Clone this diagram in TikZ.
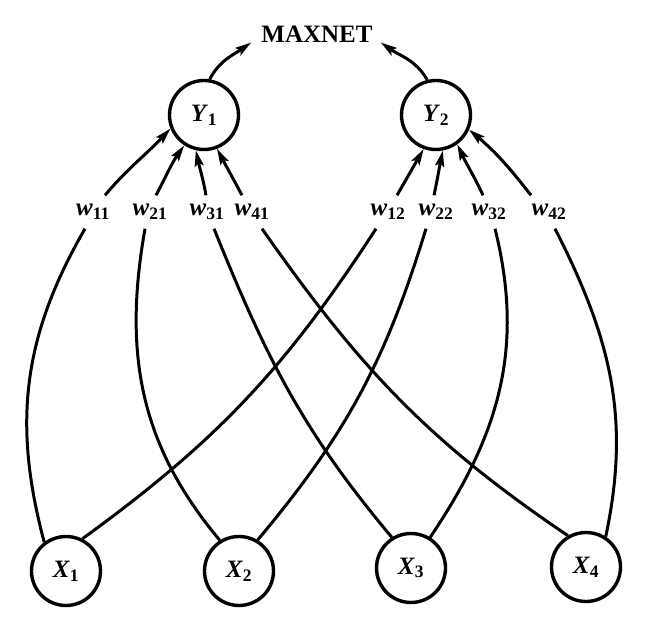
\documentclass[tikz,border=0pt]{standalone}
\usepackage{fontspec}
\setmainfont{Liberation Serif}
\usetikzlibrary{arrows.meta}
\begin{document}
\begin{tikzpicture}[x=1pt,y=1pt,
  txt/.style={font=\fontsize{25}{30}\selectfont\bfseries},
  unit/.style={txt,circle,draw,line width=3.4pt,minimum size=69pt,inner sep=0pt},
  wlab/.style={txt,inner sep=0pt,minimum width=36pt,minimum height=33pt},
  conn/.style={line width=3pt},
  arr/.style={conn,-{Stealth[length=16pt,width=9pt,inset=3pt]}}]
\useasboundingbox (0,0) rectangle (659,630);
% output units
\node[unit] (Y1) at (204,515) {\textit{Y}\textsubscript{1}};
\node[unit] (Y2) at (436,515) {\textit{Y}\textsubscript{2}};
\node[txt,inner sep=0pt] (MAX) at (317,596) {MAXNET};
% input units
\node[unit] (X1) at (66,59) {\textit{X}\textsubscript{1}};
\node[unit] (X2) at (239,59) {\textit{X}\textsubscript{2}};
\node[unit] (X3) at (411,62) {\textit{X}\textsubscript{3}};
\node[unit] (X4) at (586,63) {\textit{X}\textsubscript{4}};
% weight labels
\node[wlab] (w11) at (93,418) {\textit{w}\textsubscript{11}};
\node[wlab] (w21) at (150,418) {\textit{w}\textsubscript{21}};
\node[wlab] (w31) at (207,418) {\textit{w}\textsubscript{31}};
\node[wlab] (w41) at (252,418) {\textit{w}\textsubscript{41}};
\node[wlab] (w12) at (388,418) {\textit{w}\textsubscript{12}};
\node[wlab] (w22) at (436,418) {\textit{w}\textsubscript{22}};
\node[wlab] (w32) at (489,418) {\textit{w}\textsubscript{32}};
\node[wlab] (w42) at (549,418) {\textit{w}\textsubscript{42}};
% to MAXNET
\draw[arr] (Y1.81) to[out=62,in=215] ([xshift=-10pt]MAX.south west);
\draw[arr] (Y2.104) to[out=120,in=325] ([xshift=8pt]MAX.south east);
% connections to Y1
\draw[conn] (X1.127) to[out=105,in=240] ([xshift=-8pt]w11.south);
\draw[arr] ([xshift=12pt]w11.north) to[out=50,in=227] (Y1.202);
\draw[conn] (X2.122) to[out=130,in=260] ([xshift=-5pt]w21.south);
\draw[arr] ([xshift=6pt]w21.north) to[out=62,in=235] (Y1.237);
\draw[conn] (X3.122) to[out=130,in=292] ([xshift=7pt]w31.south);
\draw[arr] ([xshift=-1pt]w31.north) to[out=100,in=282] (Y1.257);
\draw[conn] (X4.120) to[out=146,in=305] ([xshift=10pt]w41.south);
\draw[arr] ([xshift=-10pt]w41.north) to[out=118,in=298] (Y1.291);
% connections to Y2
\draw[conn] (X1.63) to[out=36,in=237] ([xshift=-12pt]w12.south);
\draw[arr] ([xshift=9pt]w12.north) to[out=60,in=240] (Y2.250);
\draw[conn] (X2.59) to[out=50,in=253] ([xshift=-10pt]w22.south);
\draw[arr] ([xshift=-2pt]w22.north) to[out=78,in=258] (Y2.281);
\draw[conn] (X3.58) to[out=56,in=284] ([xshift=6pt]w32.south);
\draw[arr] ([xshift=-6pt]w32.north) to[out=115,in=295] (Y2.306);
\draw[conn] (X4.57) to[out=78,in=297] ([xshift=6pt]w42.south);
\draw[arr] ([xshift=-18pt]w42.north) to[out=128,in=320] (Y2.336);
\end{tikzpicture}
\end{document}
